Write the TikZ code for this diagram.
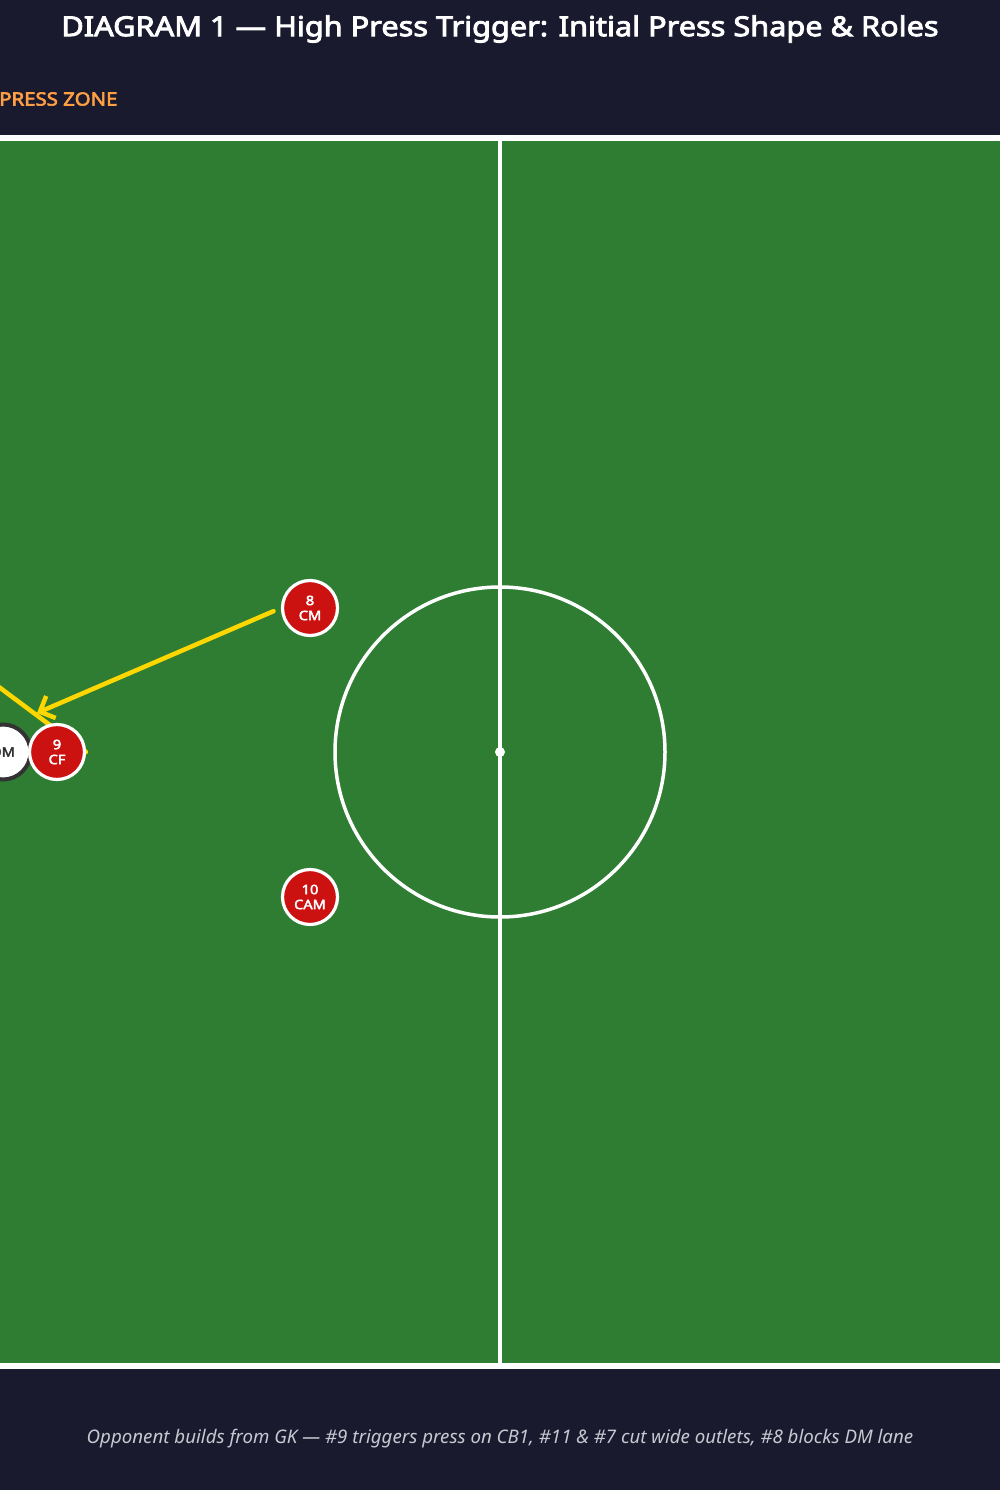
\documentclass[tikz,border=0pt]{standalone}
\usepackage{fontspec}
\setmainfont{Noto Sans}
\newfontfamily\nsbold{Noto Sans}[FakeBold=3.2, FakeStretch=1.12]
\usetikzlibrary{arrows.meta}
\definecolor{bgdark}{HTML}{1A1A2E}
\definecolor{pitch}{HTML}{2E7D32}
\definecolor{redp}{HTML}{CC1111}
\definecolor{gold}{HTML}{FFD700}
\definecolor{zone}{HTML}{FF9F43}
\definecolor{capt}{HTML}{C8C8D2}
\definecolor{darkb}{HTML}{333333}
\tikzset{
  redplayer/.style={circle, fill=redp, draw=white, line width=3.2pt, minimum size=55pt, inner sep=0pt, text=white, align=center, font=\nsbold\fontsize{13}{15}\selectfont},
  oppplayer/.style={circle, fill=white, draw=darkb, line width=4pt, minimum size=55pt, inner sep=0pt, text=darkb, align=center, font=\nsbold\fontsize{13}{15}\selectfont},
  pressrun/.style={gold, line width=4.5pt, line cap=round, -{Straight Barb[length=12pt,width=24pt,line width=4.5pt]}},
  pressline/.style={gold, line width=4.5pt, line cap=round},
  pitchline/.style={white, line width=3.5pt}
}
\begin{document}
\begin{tikzpicture}[x=1pt,y=-1pt]
\useasboundingbox (0,0) rectangle (1000,1490);
\clip (0,0) rectangle (1000,1490);
\fill[bgdark] (0,0) rectangle (1000,1490);
% pitch
\fill[pitch] (-300,138) rectangle (1300,1366);
\draw[white, line width=6pt] (-300,138) rectangle (1300,1366);
\draw[pitchline, line width=4pt] (500,138) -- (500,1366);
\draw[pitchline] (500,752) circle[radius=165];
\fill[white] (500,752) circle[radius=5];
% titles
\node (title) at (500,29) {\color{white}\nsbold\fontsize{27.4}{32}\selectfont DIAGRAM 1 — High Press Trigger: Initial Press Shape \& Roles};
\node[anchor=west, inner sep=0pt] (zonelabel) at (-1,99) {\color{zone}\nsbold\fontsize{18.2}{22}\selectfont PRESS ZONE};
\node (caption) at (500,1439) {\color{capt}\itshape\fontsize{18.7}{22}\selectfont Opponent builds from GK — \#9 triggers press on CB1, \#11 \& \#7 cut wide outlets, \#8 blocks DM lane};
% runs (under players)
\coordinate (runAstart) at (-60,643);
\coordinate (runAend) at (86,752);
\coordinate (runBend) at (37,713);
\draw[pressline] (runAstart) -- (runAend);
% players
\node[oppplayer] (dm) at (3,752) {DM};
\node[redplayer] (p9) at (57,752) {9\\CF};
\node[redplayer] (p8) at (310,608) {8\\CM};
\node[redplayer] (p10) at (310,897) {10\\CAM};
\draw[pressrun, shorten <=8pt] (p8.west) -- (runBend);
\end{tikzpicture}
\end{document}
